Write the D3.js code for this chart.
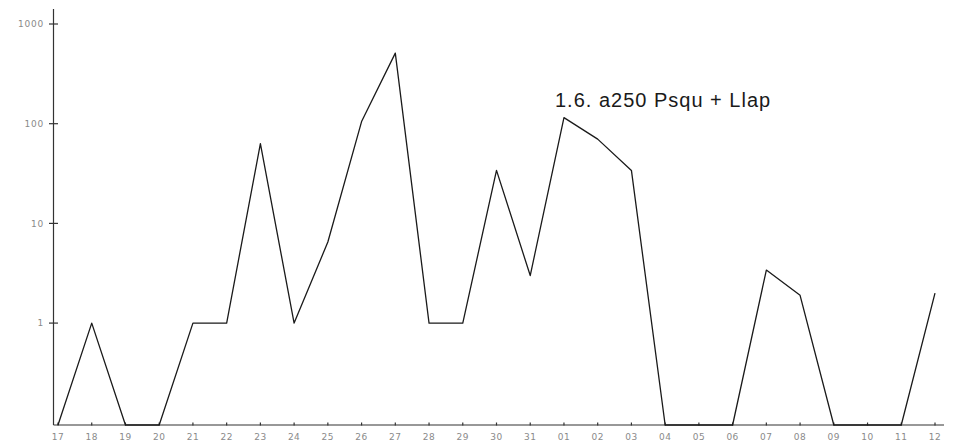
<!DOCTYPE html>
<html>
<head>
<meta charset="utf-8">
<script src="https://cdn.jsdelivr.net/npm/d3@7"></script>
<style>
  html, body { margin: 0; padding: 0; background: #fff; }
  svg { display: block; }
</style>
</head>
<body>
<svg id="chart" width="955" height="446"></svg>
<script>
// Day labels (x categories)
const days = ["17","18","19","20","21","22","23","24","25","26","27","28","29","30","31",
              "01","02","03","04","05","06","07","08","09","10","11","12"];
// Counts per day (0 = none, drawn on the base line)
const counts = [0, 1, 0, 0, 1, 1, 63, 1, 6.5, 105, 510, 1, 1, 34, 3,
                115, 70, 34, 0, 0, 0, 3.4, 1.9, 0, 0, 0, 2];
// Log-axis tick values and labels
const yTicks = [1, 10, 100, 1000];
const yTickLabels = ["1", "10", "100", "1000"];
const seriesLabel = "1.6. a250 Psqu + Llap";

const svg = d3.select("#chart");
const BASE = 0.095; // value represented by the x-axis line (zeros sit here)

const x = d3.scalePoint().domain(days).range([58, 935]);
const y = d3.scaleLog().domain([BASE, 1000]).range([425, 24]);

const axisColor = "#333";
const labelColor = "#8a8a8a";

// Y axis line
svg.append("line")
  .attr("x1", 53.5).attr("x2", 53.5)
  .attr("y1", 9).attr("y2", y(BASE))
  .attr("stroke", axisColor).attr("stroke-width", 1.2);

// Y axis ticks (crossing)
const yAxis = svg.append("g");
yAxis.selectAll("line").data(yTicks).join("line")
  .attr("x1", 49).attr("x2", 58)
  .attr("y1", d => y(d)).attr("y2", d => y(d))
  .attr("stroke", axisColor).attr("stroke-width", 1.2);
yAxis.selectAll("text").data(yTicks).join("text")
  .attr("x", 44).attr("y", d => y(d))
  .attr("dy", "0.35em")
  .attr("text-anchor", "end")
  .attr("font-family", "DejaVu Sans, sans-serif")
  .attr("font-size", 9)
  .attr("letter-spacing", 0.8)
  .attr("fill", labelColor)
  .text((d, i) => yTickLabels[i]);

// X axis line
svg.append("line")
  .attr("x1", 53.5).attr("x2", 944)
  .attr("y1", y(BASE)).attr("y2", y(BASE))
  .attr("stroke", axisColor).attr("stroke-width", 1.2);

// X ticks
const xAxis = svg.append("g");
xAxis.selectAll("line").data(days).join("line")
  .attr("x1", d => x(d)).attr("x2", d => x(d))
  .attr("y1", y(BASE) - 2.5).attr("y2", y(BASE) + 0.5)
  .attr("stroke", axisColor).attr("stroke-width", 1.2);
xAxis.selectAll("text").data(days).join("text")
  .attr("x", d => x(d)).attr("y", 440)
  .attr("text-anchor", "middle")
  .attr("font-family", "DejaVu Sans, sans-serif")
  .attr("font-size", 9)
  .attr("letter-spacing", 0.5)
  .attr("fill", labelColor)
  .text(d => d);

// Data line
const line = d3.line()
  .x((d, i) => x(days[i]))
  .y(d => y(d > 0 ? d : BASE));

svg.append("path")
  .datum(counts)
  .attr("d", line)
  .attr("fill", "none")
  .attr("stroke", "#1a1a1a")
  .attr("stroke-width", 1.3)
  .attr("stroke-linejoin", "round");

// Series label
svg.append("text")
  .attr("x", 555).attr("y", 107)
  .attr("font-family", "Liberation Sans, Arial, sans-serif")
  .attr("font-size", 20)
  .attr("letter-spacing", 1)
  .attr("fill", "#1a1a1a")
  .text(seriesLabel);
</script>
</body>
</html>
